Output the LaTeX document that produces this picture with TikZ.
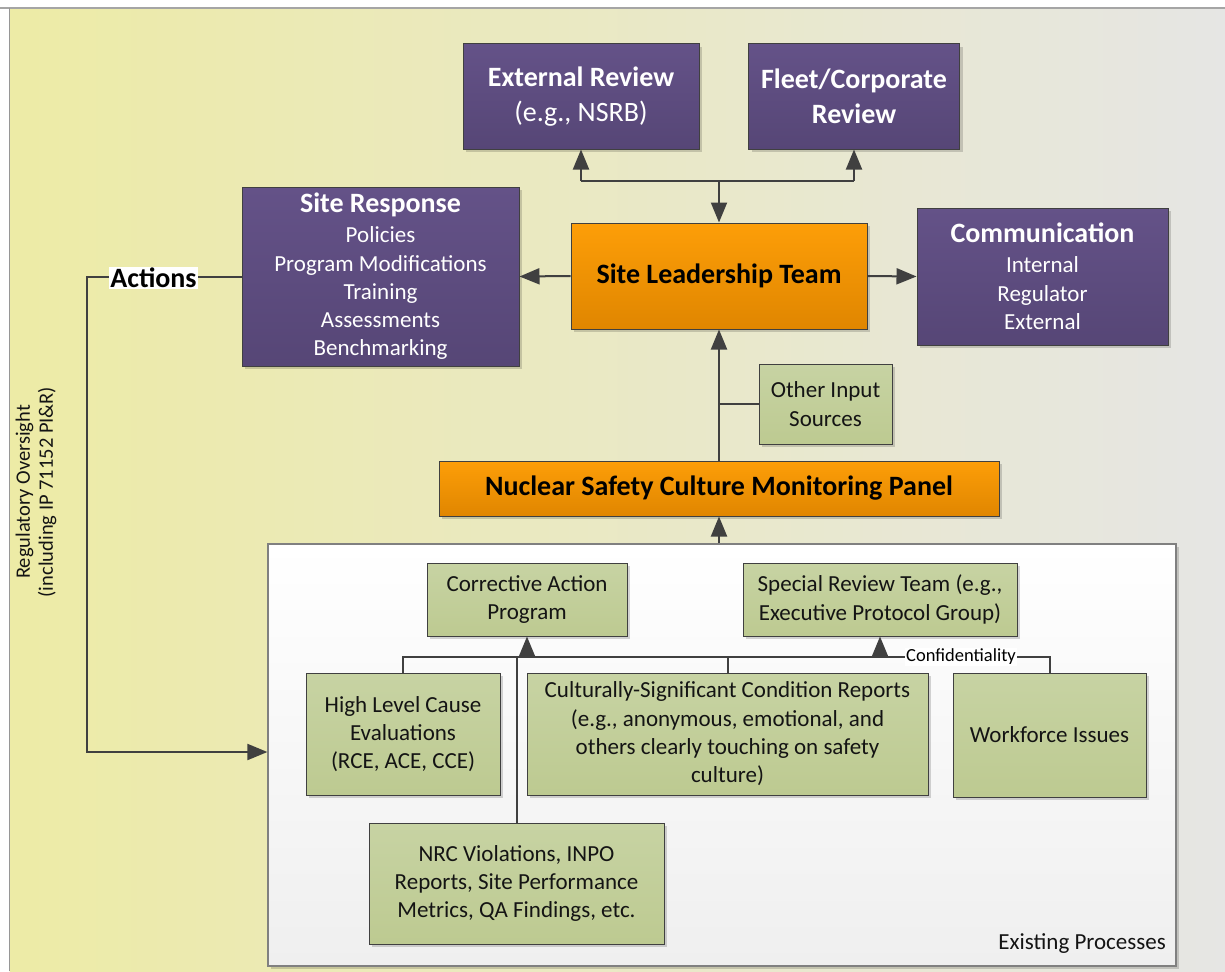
\documentclass[tikz,border=0pt]{standalone}
\usepackage{fontspec}
\setmainfont{Carlito}
\usetikzlibrary{arrows.meta,shadows}
\definecolor{purT}{RGB}{100,82,136}
\definecolor{purB}{RGB}{86,70,118}
\definecolor{orT}{RGB}{253,158,8}
\definecolor{orB}{RGB}{224,134,0}
\definecolor{grT}{RGB}{199,211,163}
\definecolor{grB}{RGB}{189,202,145}
\definecolor{borderC}{RGB}{64,64,64}
\definecolor{lineC}{RGB}{64,64,64}
\definecolor{bgL}{RGB}{237,235,166}
\definecolor{bgR}{RGB}{230,230,228}
\definecolor{exBot}{RGB}{239,239,239}
\definecolor{exB}{RGB}{128,128,128}
\definecolor{txt}{RGB}{20,20,20}
\begin{document}
\begin{tikzpicture}[x=1pt,y=1pt,
  conn/.style={draw=lineC, line width=2pt},
  arr/.style={conn, -{Triangle[length=20pt,width=16pt]}},
  shad/.style={drop shadow={shadow xshift=3pt, shadow yshift=-3pt, fill=black, opacity=0.16}},
  box/.style={draw=borderC, line width=1pt, align=center, inner sep=0pt, shad},
  pbox/.style={box, top color=purT, bottom color=purB, text=white, font=\fontsize{23}{28.3}\selectfont},
  obox/.style={box, top color=orT, bottom color=orB, text=black, font=\fontsize{28}{34}\selectfont\bfseries},
  gbox/.style={box, top color=grT, bottom color=grB, text=txt, font=\fontsize{23}{28.3}\selectfont},
  lbl/.style={fill=white, inner sep=1pt},
]
\useasboundingbox (0,0) rectangle (1225,-971);
\fill[white] (0,0) rectangle (1225,-971);
\shade[left color=bgL, right color=bgR] (9.5,-8) rectangle (1225,-971);
\draw[draw={rgb,255:red,165;green,165;blue,165}, line width=2pt] (0,-8) -- (1225,-8);
\draw[draw={rgb,255:red,150;green,150;blue,150}, line width=1pt] (9.5,-8) -- (9.5,-971);

% regulatory oversight text
\node[rotate=90, align=center, text=txt, font=\fontsize{20.5}{23}\selectfont] (reg) at (36,-492) {Regulatory Oversight\\(including IP 71152 PI\&R)};

% existing processes container
\node[draw=exB, line width=1.2pt, top color=white, bottom color=exBot, minimum width=908, minimum height=422, inner sep=0pt, shad] (ex) at (722,-755) {};
\node[anchor=base east, inner sep=0pt, text=txt, font=\fontsize{23}{28}\selectfont] (exl) at (1166,-949) {Existing Processes};

% top boxes
\node[pbox, font=\fontsize{28}{35}\selectfont, minimum width=236, minimum height=105] (ext) at (581,-96.5) {\textbf{External Review}\\(e.g., NSRB)};
\node[pbox, font=\fontsize{28}{35}\selectfont, minimum width=211, minimum height=105] (fleet) at (854,-96.5) {\textbf{Fleet/Corporate}\\\textbf{Review}};

\node[obox, minimum width=296, minimum height=106] (slt) at (719,-276) {Site Leadership Team};

\node[pbox, minimum width=277, minimum height=179] (sr) at (380.5,-276.5) {{\fontsize{28}{28.3}\selectfont\bfseries Site Response}\\[1.7pt]Policies\\Program Modifications\\Training\\Assessments\\Benchmarking};

\node[pbox, minimum width=251, minimum height=137] (comm) at (1042.5,-276.5) {{\fontsize{28}{28.3}\selectfont\bfseries Communication}\\[1.7pt]Internal\\Regulator\\External};

\node[gbox, minimum width=133, minimum height=80] (oth) at (825.5,-404) {Other Input\\Sources};

\node[obox, minimum width=560, minimum height=55] (nscmp) at (719,-488.5) {Nuclear Safety Culture Monitoring Panel};

% green boxes inside existing processes
\node[gbox, minimum width=200, minimum height=73] (cap) at (527,-599.5) {Corrective Action\\Program};
\node[gbox, minimum width=274, minimum height=73] (srt) at (880,-599.5) {Special Review Team (e.g.,\\Executive Protocol Group)};
\node[gbox, minimum width=194, minimum height=122] (hl) at (403,-734) {High Level Cause\\Evaluations\\(RCE, ACE, CCE)};
\node[gbox, minimum width=401, minimum height=122] (cs) at (727.5,-734) {Culturally-Significant Condition Reports\\(e.g., anonymous, emotional, and\\others clearly touching on safety\\culture)};
\node[gbox, minimum width=193, minimum height=124] (wf) at (1049.5,-735) {Workforce Issues};
\node[gbox, minimum width=295, minimum height=121] (nrc) at (516.5,-883.5) {NRC Violations, INPO\\Reports, Site Performance\\Metrics, QA Findings, etc.};

% connectors: top
\coordinate (tj) at (719,-181);
\draw[conn] (ext.south |- tj) -- (fleet.south |- tj);
\draw[arr] (tj) -- (slt.north);
\draw[arr] (ext.south |- tj) -- (ext.south);
\draw[arr] (fleet.south |- tj) -- (fleet.south);

\draw[arr] (slt.west) -- (sr.east);
\draw[arr] (slt.east) -- (comm.west);
\draw[arr] (nscmp.north) -- (slt.south);
\draw[conn] (oth.west) -- (oth.west -| slt.south);
\draw[arr] (nscmp.south |- ex.north) -- (nscmp.south);

% actions loop
\coordinate (al) at (87,-276.5);
\coordinate (ab) at (87,-752);
\draw[arr] (sr.west) -- (al) -- (ab) -- (ab -| ex.west);
\node[lbl, text=black, font=\fontsize{28}{30}\selectfont\bfseries] (act) at (153.5,-278) {Actions};

% bus inside existing processes
\coordinate (busy) at (0,-657);
\draw[conn] (hl.north) -- (hl.north |- busy) -- (wf.north |- busy) -- (wf.north);
\draw[conn] (cs.north) -- (cs.north |- busy);
\draw[conn] (nrc.north) -- (nrc.north |- busy);
\draw[arr] (cap.south |- busy) -- (cap.south);
\draw[arr] (srt.south |- busy) -- (srt.south);
\node[lbl, text=black, font=\fontsize{18.5}{20}\selectfont] (conf) at (961,-657) {Confidentiality};
\end{tikzpicture}
\end{document}
